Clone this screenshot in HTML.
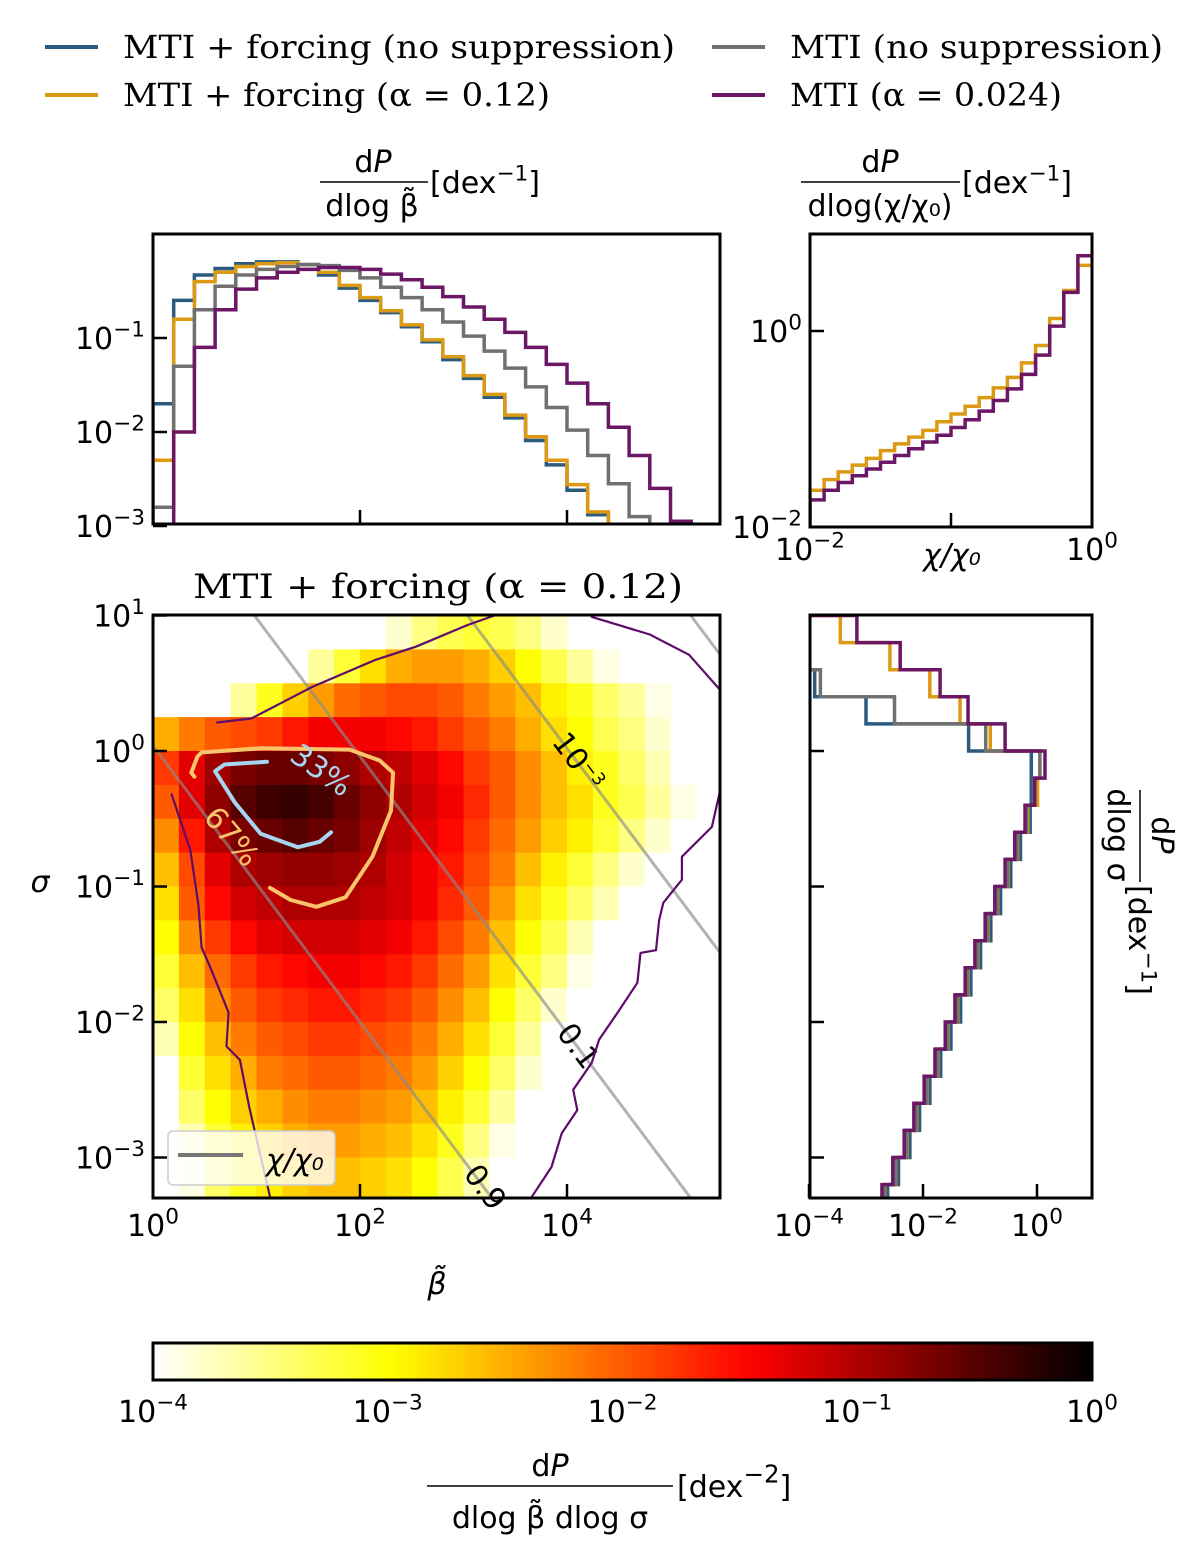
<!DOCTYPE html>
<html><head><meta charset="utf-8"><style>
html,body{margin:0;padding:0;background:#fff;overflow:hidden;width:1200px;height:1554px;}
svg{display:block;}
.tk{font-family:"DejaVu Sans","Liberation Sans",sans-serif;font-size:30px;fill:#000;}
.sf{font-family:"DejaVu Serif","Liberation Serif",serif;fill:#000;}
</style></head><body>
<svg id="fig" xmlns="http://www.w3.org/2000/svg" width="1200" height="1554" viewBox="0 0 1200 1554" style="background:#fff">
<defs>
<clipPath id="cMain"><rect x="153" y="615" width="567" height="583"/></clipPath>
<clipPath id="cTL"><rect x="153" y="234" width="567" height="290"/></clipPath>
<clipPath id="cTR"><rect x="810" y="234" width="282" height="293"/></clipPath>
<clipPath id="cBR"><rect x="810" y="615" width="282" height="583"/></clipPath>
<linearGradient id="cbGrad" x1="0" x2="1" y1="0" y2="0"></linearGradient>
</defs>
<g id="legend"></g>
<g id="tl"></g>
<g id="tr"></g>
<g id="main"></g>
<g id="br"></g>
<g id="cb"></g>
</svg>
<script>
// ---------- data ----------
const seriesNames = ["MTI + forcing (no suppression)","MTI + forcing (α = 0.12)","MTI (no suppression)","MTI (α = 0.024)"];
const seriesColors = ["#2b5c80","#dc9a14","#707070","#6b1766"];
const betaBinStart = 0, betaBinWidth = 0.2;
const betaBlue   = [-1.7,-0.6,-0.33,-0.26,-0.21,-0.19,-0.19,-0.22,-0.33,-0.47,-0.6,-0.73,-0.88,-1.04,-1.23,-1.43,-1.63,-1.85,-2.09,-2.35,-2.62,-2.88,-3.3,-9,-9,-9,-9,-9];
const betaOrange = [-2.3,-0.8,-0.4,-0.3,-0.24,-0.21,-0.2,-0.22,-0.3,-0.44,-0.57,-0.71,-0.86,-1.02,-1.2,-1.4,-1.6,-1.82,-2.05,-2.3,-2.56,-2.85,-3.2,-9,-9,-9,-9,-9];
const betaGray   = [-2.8,-1.3,-0.7,-0.45,-0.33,-0.27,-0.24,-0.22,-0.23,-0.28,-0.36,-0.46,-0.57,-0.7,-0.83,-0.98,-1.14,-1.32,-1.52,-1.74,-1.98,-2.25,-2.55,-2.9,-3.3,-9,-9,-9];
const betaPurple = [-3.5,-2.0,-1.1,-0.7,-0.48,-0.36,-0.3,-0.27,-0.25,-0.25,-0.27,-0.32,-0.38,-0.46,-0.56,-0.67,-0.8,-0.94,-1.1,-1.28,-1.48,-1.7,-1.95,-2.25,-2.6,-2.95,-3.4,-9];
const chiBinStart = -2, chiBinWidth = 0.1;
const chiOrange = [-1.65,-1.54,-1.46,-1.39,-1.32,-1.24,-1.17,-1.10,-1.03,-0.94,-0.86,-0.78,-0.69,-0.59,-0.48,-0.33,-0.15,0.13,0.42,0.68];
const chiPurple = [-1.75,-1.65,-1.57,-1.5,-1.43,-1.36,-1.29,-1.22,-1.15,-1.08,-1.0,-0.92,-0.83,-0.72,-0.6,-0.45,-0.25,0.05,0.4,0.78];
const sigBinTop = 1, sigBinWidth = 0.2;
const sigBlue   = [-9,-9,-3.9,-3.0,-1.2,-0.1,-0.1,-0.12,-0.29,-0.46,-0.64,-0.81,-0.99,-1.16,-1.34,-1.51,-1.69,-1.88,-2.06,-2.23,-2.43,-2.62];
const sigOrange = [-3.45,-2.58,-1.88,-1.35,-0.82,0.05,0.01,-0.16,-0.34,-0.51,-0.69,-0.86,-1.04,-1.21,-1.39,-1.56,-1.74,-1.93,-2.11,-2.28,-2.48,-2.67];
const sigGray   = [-9,-9,-3.8,-2.5,-0.9,0.05,-0.05,-0.18,-0.35,-0.52,-0.7,-0.87,-1.05,-1.22,-1.4,-1.57,-1.75,-1.94,-2.12,-2.29,-2.49,-2.68];
const sigPurple = [-3.16,-2.4,-1.7,-1.21,-0.56,0.14,-0.04,-0.21,-0.39,-0.56,-0.74,-0.91,-1.09,-1.26,-1.44,-1.61,-1.79,-1.98,-2.16,-2.33,-2.53,-2.72];
const hmSigTop = 1, hmSigStep = 0.25, hmBetaStart = 0, hmBetaStep = 0.25;
const hmLogDensity = [
[-9,-9,-9,-9,-9,-9,-9,-9,-9,-3.8,-3.5,-3.3,-3.2,-3.3,-3.5,-3.8,-9,-9,-9,-9,-9,-9],
[-9,-9,-9,-9,-9,-9,-3.6,-3.2,-2.8,-2.5,-2.4,-2.4,-2.5,-2.7,-3.0,-3.3,-3.6,-3.9,-9,-9,-9,-9],
[-9,-9,-9,-3.6,-3.1,-2.7,-2.4,-2.1,-2.0,-1.9,-1.9,-2.0,-2.2,-2.4,-2.6,-2.9,-3.1,-3.4,-3.6,-3.9,-9,-9],
[-2.5,-2.2,-2.0,-1.9,-1.8,-1.6,-1.4,-1.4,-1.4,-1.5,-1.6,-1.8,-2.0,-2.2,-2.5,-2.8,-3.0,-3.3,-3.5,-3.8,-4.2,-9],
[-1.8,-1.3,-0.9,-0.7,-0.6,-0.6,-0.7,-0.8,-1.0,-1.1,-1.3,-1.5,-1.8,-2.0,-2.3,-2.6,-2.9,-3.1,-3.4,-3.7,-4.0,-9],
[-2.0,-1.3,-0.8,-0.5,-0.35,-0.3,-0.4,-0.6,-0.8,-1.0,-1.2,-1.4,-1.7,-2.0,-2.3,-2.6,-2.8,-3.1,-3.3,-3.6,-3.9,-9],
[-2.3,-1.6,-1.0,-0.7,-0.6,-0.5,-0.6,-0.7,-0.9,-1.1,-1.3,-1.5,-1.8,-2.1,-2.4,-2.7,-2.9,-3.2,-3.5,-3.8,-4.1,-9],
[-2.6,-1.9,-1.3,-1.0,-0.9,-0.85,-0.85,-0.9,-1.0,-1.2,-1.4,-1.6,-1.9,-2.2,-2.6,-2.9,-3.2,-3.5,-3.8,-4.2,-9,-9],
[-2.8,-2.0,-1.5,-1.2,-1.1,-1.0,-1.0,-1.0,-1.1,-1.2,-1.4,-1.7,-2.0,-2.4,-2.8,-3.1,-3.4,-3.7,-4.0,-9,-9,-9],
[-3.0,-2.3,-1.8,-1.5,-1.3,-1.2,-1.2,-1.2,-1.3,-1.4,-1.6,-1.9,-2.2,-2.6,-3.0,-3.3,-3.7,-4.1,-9,-9,-9,-9],
[-3.2,-2.6,-2.1,-1.8,-1.6,-1.5,-1.4,-1.4,-1.5,-1.6,-1.8,-2.1,-2.4,-2.8,-3.2,-3.5,-3.9,-9,-9,-9,-9,-9],
[-3.4,-2.8,-2.3,-2.0,-1.8,-1.7,-1.6,-1.6,-1.7,-1.8,-2.0,-2.3,-2.6,-3.0,-3.4,-3.8,-4.2,-9,-9,-9,-9,-9],
[-3.7,-3.0,-2.6,-2.2,-2.0,-1.9,-1.8,-1.8,-1.9,-2.0,-2.2,-2.5,-2.8,-3.2,-3.6,-4.0,-9,-9,-9,-9,-9,-9],
[-4.1,-3.2,-2.8,-2.5,-2.2,-2.1,-2.0,-2.0,-2.1,-2.2,-2.4,-2.7,-3.0,-3.4,-3.8,-9,-9,-9,-9,-9,-9,-9],
[-4.4,-3.4,-3.0,-2.7,-2.5,-2.3,-2.2,-2.2,-2.3,-2.4,-2.6,-2.9,-3.2,-3.6,-4.0,-9,-9,-9,-9,-9,-9,-9],
[-9,-3.7,-3.2,-2.9,-2.7,-2.5,-2.4,-2.4,-2.5,-2.6,-2.8,-3.1,-3.5,-3.9,-9,-9,-9,-9,-9,-9,-9,-9],
[-9,-3.9,-3.4,-3.1,-2.9,-2.7,-2.6,-2.6,-2.7,-2.8,-3.0,-3.3,-3.7,-4.1,-9,-9,-9,-9,-9,-9,-9,-9]
];
const chiLineLabels = ["0.9","0.1","10^-3",""];
const chiLineIntercepts = [0.04, 2.0, 4.1, 6.3];
const chiLineSlope = -1.02;
const chiLabelBeta = [3.2, 4.1, 4.1, 0];
const contour33 = [[1.10,-0.08],[0.69,-0.10],[0.60,-0.15],[0.79,-0.38],[1.04,-0.61],[1.40,-0.71],[1.61,-0.67],[1.72,-0.60]];
const contour67 = [[0.40,-0.19],[0.37,-0.16],[0.43,-0.04],[0.47,-0.01],[1.04,0.02],[1.90,0.01],[2.19,-0.07],[2.32,-0.16],[2.30,-0.44],[2.12,-0.78],[1.86,-1.08],[1.58,-1.15],[1.33,-1.10],[1.13,-1.01]];
const purpleLeft = [[0.18,-0.32],[0.36,-0.73],[0.44,-1.14],[0.47,-1.45],[0.55,-1.59],[0.73,-1.93],[0.71,-2.18],[0.84,-2.28],[0.93,-2.63],[1.13,-3.29]];
const purpleTop = [[0.62,0.21],[0.95,0.24],[1.53,0.47],[2.14,0.67],[2.54,0.77],[3.04,0.93],[3.30,1.0]];
const purpleRight = [[4.24,0.99],[4.80,0.86],[5.18,0.71],[5.48,0.45]];
const purpleRight2 = [[5.53,-0.12],[5.40,-0.56],[5.11,-0.78],[5.11,-0.95],[4.93,-1.12],[4.89,-1.25],[4.86,-1.47],[4.71,-1.49],[4.68,-1.71],[4.49,-1.93],[4.31,-2.13],[4.24,-2.30],[4.06,-2.50],[4.10,-2.65],[3.95,-2.82],[3.85,-3.07],[3.66,-3.29]];
const colorbarTicks = [-4,-3,-2,-1,0];

// ---------- axes ----------
const NS="http://www.w3.org/2000/svg";
const bx = b => 153 + b*103.5;
const sy = s => 751 - s*135.5;
const tly = L => 338 - (L+1)*94;
const trx = c => 810 + (c+2)*141;
const tryy = L => 331 - L*96.5;
const brx = L => 809 + (L+4)*57;
const cbx = L => 153 + (L+4)*234.75;

function el(tag, attrs, parent, name, inter){
  const e=document.createElementNS(NS,tag);
  for(const k in attrs) e.setAttribute(k, attrs[k]);
  
  
  parent.appendChild(e); return e;
}
function hot(L){
  let t=(L+4)/4; t=Math.max(0,Math.min(1,t)); const x=1-t;
  const r=Math.min(1,x/0.365079), g=Math.max(0,Math.min(1,(x-0.365079)/0.380953)), b=Math.max(0,Math.min(1,(x-0.746032)/0.253968));
  return `rgb(${Math.round(r*255)},${Math.round(g*255)},${Math.round(b*255)})`;
}
function ts(t,s,attrs){const a=document.createElementNS(NS,'tspan'); for(const k in (attrs||{})) a.setAttribute(k,attrs[k]); a.textContent=s; t.appendChild(a); return a;}
function pow(parent, x, y, base, exp, anchor, size, name, suffix){
  size=size||30;
  const t=el('text',{x:x,y:y,'text-anchor':anchor,class:'tk','font-size':size},parent,name,false);
  ts(t,base);
  ts(t,exp.replace('-','−'),{dy:-size*0.42,'font-size':size*0.72});
  if(suffix) ts(t,suffix,{dy:size*0.42});
  return t;
}
function txt(parent,x,y,s,cls,attrs,name){
  const t=el('text',Object.assign({x:x,y:y,class:cls},attrs||{}),parent,name,false); t.textContent=s; return t;
}
function dP(parent,x,y,size,name){
  const t=el('text',{x:x,y:y,class:'tk','text-anchor':'middle','font-size':size},parent,name,false);
  ts(t,'d'); ts(t,'P',{'font-style':'italic'}); return t;
}
function polyline(parent, pts, fx, fy, stroke, w, name, clip){
  const d=pts.map((p,i)=>(i?'L':'M')+fx(p[0]).toFixed(1)+','+fy(p[1]).toFixed(1)).join(' ');
  const a={d:d,fill:'none',stroke:stroke,'stroke-width':w,'stroke-linejoin':'round','stroke-linecap':'round'};
  if(clip) a['clip-path']=clip;
  return el('path',a,parent,name,false);
}
function hStep(parent, vals, start, w, fx, fy, color, name, clip){
  let d=''; const yb=fy(-12);
  vals.forEach((v,i)=>{const x0=fx(start+i*w), x1=fx(start+(i+1)*w), y=fy(v);
    d+= (i===0? `M${x0},${yb} L${x0},${y}` : ` L${x0},${y}`) + ` L${x1},${y}`;});
  el('path',{d:d,fill:'none',stroke:color,'stroke-width':3.5,'clip-path':clip},parent,name,false);
}
function frame(parent,x,y,w,h,name){ el('rect',{x:x,y:y,width:w,height:h,fill:'none',stroke:'#000','stroke-width':3},parent,name,false); }
function tick(parent,x1,y1,x2,y2,name){ el('line',{x1:x1,y1:y1,x2:x2,y2:y2,stroke:'#000','stroke-width':2.5},parent,name,false); }

// ---------- legend ----------
const lg=document.getElementById('legend');
const legPos=[[45,47],[45,95],[712,47],[712,95]];
const legLen=[552,427,373,272];
seriesNames.forEach((n,i)=>{
  const [x,y]=legPos[i];
  el('line',{x1:x,y1:y,x2:x+53,y2:y,stroke:seriesColors[i],'stroke-width':4},lg,'legend-swatch-'+i,false);
  txt(lg,x+78,y+11,n,'sf',{'font-size':32,textLength:legLen[i],lengthAdjust:'spacingAndGlyphs'},'legend-label-'+i);
});

// ---------- top-left panel ----------
const tl=document.getElementById('tl');
[betaBlue,betaOrange,betaGray,betaPurple].forEach((arr,i)=>hStep(tl,arr,betaBinStart,betaBinWidth,bx,tly,seriesColors[i],'beta-hist-'+i,'url(#cTL)'));
frame(tl,153,234,567,290,'beta-hist-frame');
[-1,-2,-3].forEach(L=>{tick(tl,153,tly(L),167,tly(L),'beta-hist-ytick'); pow(tl,145,tly(L)+11,'10',String(L),'end',30,'beta-hist-ytick-label');});
[2,4].forEach(b=>tick(tl,bx(b),524,bx(b),510,'beta-hist-xtick'));
dP(tl,373,172,30,'beta-hist-ylabel-num');
el('line',{x1:320,y1:182,x2:428,y2:182,stroke:'#000','stroke-width':1.5},tl,'beta-hist-ylabel-bar',false);
txt(tl,372,216,'dlog β̃','tk',{'text-anchor':'middle','font-size':30},'beta-hist-ylabel-den');
pow(tl,430,193,'[dex','-1','start',30,'beta-hist-ylabel-unit',']');

// ---------- top-right panel ----------
const tr=document.getElementById('tr');
hStep(tr,chiOrange,chiBinStart,chiBinWidth,trx,tryy,seriesColors[1],'chi-hist-orange','url(#cTR)');
hStep(tr,chiPurple,chiBinStart,chiBinWidth,trx,tryy,seriesColors[3],'chi-hist-purple','url(#cTR)');
frame(tr,810,234,282,293,'chi-hist-frame');
tick(tr,810,331,824,331,'chi-hist-ytick');
tick(tr,951,527,951,513,'chi-hist-xtick');
pow(tr,802,342,'10','0','end',30,'chi-hist-ytick-label');
pow(tr,802,538,'10','-2','end',30,'chi-hist-ytick-label');
pow(tr,810,560,'10','-2','middle',30,'chi-hist-xtick-label');
pow(tr,1092,560,'10','0','middle',30,'chi-hist-xtick-label');
txt(tr,952,565,'χ/χ₀','tk',{'text-anchor':'middle','font-size':34,'font-style':'italic'},'chi-hist-xlabel');
dP(tr,880,172,30,'chi-hist-ylabel-num');
el('line',{x1:801,y1:182,x2:960,y2:182,stroke:'#000','stroke-width':1.5},tr,'chi-hist-ylabel-bar',false);
txt(tr,880,216,'dlog(χ/χ₀)','tk',{'text-anchor':'middle','font-size':30},'chi-hist-ylabel-den');
pow(tr,962,193,'[dex','-1','start',30,'chi-hist-ylabel-unit',']');

// ---------- main heatmap ----------
const mn=document.getElementById('main');
txt(mn,193,598,'MTI + forcing (α = 0.12)','sf',{'font-size':34,textLength:490,lengthAdjust:'spacingAndGlyphs'},'heatmap-title');
const cells=el('g',{'clip-path':'url(#cMain)'},mn,'heatmap-cells',false);
hmLogDensity.forEach((row,r)=>row.forEach((v,c)=>{
  if(v<-8) return;
  const x0=bx(hmBetaStart+c*hmBetaStep), x1=bx(hmBetaStart+(c+1)*hmBetaStep);
  const y0=sy(hmSigTop-r*hmSigStep), y1=sy(hmSigTop-(r+1)*hmSigStep-(r===hmLogDensity.length-1?0.1:0));
  const e=document.createElementNS(NS,'rect');
  e.setAttribute('x',x0.toFixed(1)); e.setAttribute('y',y0.toFixed(1));
  e.setAttribute('width',(x1-x0+0.6).toFixed(1)); e.setAttribute('height',(y1-y0+0.6).toFixed(1));
  e.setAttribute('fill',hot(v));
  
  
  cells.appendChild(e);
}));
const lines=el('g',{'clip-path':'url(#cMain)'},mn,'chi-isolines',false);
chiLineIntercepts.forEach((c,i)=>{
  const b0=-1, b1=7;
  el('line',{x1:bx(b0),y1:sy(c+chiLineSlope*b0),x2:bx(b1),y2:sy(c+chiLineSlope*b1),stroke:'#8a8a8a','stroke-opacity':0.65,'stroke-width':3},lines,'chi-isoline-'+i,false);
});
chiLineLabels.forEach((lab,i)=>{
  if(!lab) return;
  const b=chiLabelBeta[i], s=chiLineIntercepts[i]+chiLineSlope*b;
  const g=el('g',{transform:`translate(${bx(b).toFixed(1)},${sy(s).toFixed(1)}) rotate(53)`},mn,'chi-isoline-label-'+i,false);
  if(lab.indexOf('^')>=0){ const p=lab.split('^'); pow(g,0,9,p[0],p[1],'middle',24,'chi-isoline-label-text'); }
  else txt(g,0,9,lab,'tk',{'text-anchor':'middle','font-size':24},'chi-isoline-label-text');
});
[purpleLeft,purpleTop,purpleRight,purpleRight2].forEach((p,i)=>polyline(mn,p,bx,sy,'#5e0c6a',2.2,'mti-contour-'+i,'url(#cMain)'));
polyline(mn,contour67,bx,sy,'#f9c46a',4,'contour-67-percent','url(#cMain)');
polyline(mn,contour33,bx,sy,'#a6d6ef',4,'contour-33-percent','url(#cMain)');
(function(){
  let g=el('g',{transform:'translate(320,772) rotate(35)'},mn,'contour-33-label',false);
  txt(g,0,8,'33%','tk',{'text-anchor':'middle','font-size':24,style:'fill:#a6d6ef'},'contour-33-label-text');
  g=el('g',{transform:'translate(230,838) rotate(50)'},mn,'contour-67-label',false);
  txt(g,0,8,'67%','tk',{'text-anchor':'middle','font-size':24,style:'fill:#f9c46a'},'contour-67-label-text');
})();
el('rect',{x:168,y:1131,width:167,height:54,rx:5,fill:'#fff','fill-opacity':0.78,stroke:'#ccc','stroke-width':1.5},mn,'chi-legend-box',false);
el('line',{x1:178,y1:1155,x2:243,y2:1155,stroke:'#777','stroke-width':4},mn,'chi-legend-swatch',false);
txt(mn,266,1170,'χ/χ₀','tk',{'font-size':32,'font-style':'italic'},'chi-legend-label');
frame(mn,153,615,567,583,'heatmap-frame');
[1,0,-1,-2,-3].forEach(s=>{tick(mn,153,sy(s),167,sy(s),'heatmap-ytick'); pow(mn,145,sy(s)+11,'10',String(s),'end',30,'heatmap-ytick-label');});
[0,2,4].forEach(b=>{tick(mn,bx(b),1198,bx(b),1184,'heatmap-xtick'); pow(mn,bx(b),1236,'10',String(b),'middle',30,'heatmap-xtick-label');});
txt(mn,40,892,'σ','tk',{'text-anchor':'middle','font-size':36,'font-style':'italic'},'heatmap-ylabel');
txt(mn,437,1294,'β̃','tk',{'text-anchor':'middle','font-size':36,'font-style':'italic'},'heatmap-xlabel');

// ---------- bottom-right panel ----------
const br=document.getElementById('br');
function vStep(parent, vals, color, name){
  let d=''; const xl=brx(-12);
  vals.forEach((v,i)=>{const y0=sy(sigBinTop-i*sigBinWidth), y1=sy(sigBinTop-(i+1)*sigBinWidth), x=brx(v);
    d+=(i===0?`M${xl},${y0} L${x},${y0}`:` L${x},${y0}`)+` L${x},${y1}`;});
  el('path',{d:d,fill:'none',stroke:color,'stroke-width':3.5,'clip-path':'url(#cBR)'},parent,name,false);
}
[sigBlue,sigOrange,sigGray,sigPurple].forEach((a,i)=>vStep(br,a,seriesColors[i],'sigma-hist-'+i));
frame(br,810,615,282,583,'sigma-hist-frame');
[0,-1,-2,-3].forEach(s=>tick(br,810,sy(s),824,sy(s),'sigma-hist-ytick'));
[-4,-2,0].forEach(L=>{tick(br,brx(L),1198,brx(L),1184,'sigma-hist-xtick'); pow(br,brx(L),1236,'10',String(L),'middle',30,'sigma-hist-xtick-label');});
(function(){
  const g=el('g',{transform:'translate(1140,790) rotate(90)'},br,'sigma-hist-ylabel',false);
  dP(g,45,-12,30,'sigma-hist-ylabel-num');
  el('line',{x1:0,y1:0,x2:92,y2:0,stroke:'#000','stroke-width':1.5},g,'sigma-hist-ylabel-bar',false);
  txt(g,45,32,'dlog σ','tk',{'text-anchor':'middle','font-size':30},'sigma-hist-ylabel-den');
  pow(g,95,11,'[dex','-1','start',30,'sigma-hist-ylabel-unit',']');
})();

// ---------- colorbar ----------
const cb=document.getElementById('cb');
const grad=document.getElementById('cbGrad');
for(let k=0;k<=40;k++){const s=document.createElementNS(NS,'stop'); s.setAttribute('offset',(k/40)); s.setAttribute('stop-color',hot(-4+4*k/40)); grad.appendChild(s);}
el('rect',{x:153,y:1343,width:939,height:37,fill:'url(#cbGrad)',stroke:'#000','stroke-width':3},cb,'colorbar-gradient',false);
colorbarTicks.forEach(L=>pow(cb,cbx(L),1422,'10',String(L),'middle',30,'colorbar-tick-label'));
dP(cb,550,1476,34,'colorbar-label-num');
el('line',{x1:427,y1:1486,x2:673,y2:1486,stroke:'#000','stroke-width':1.5},cb,'colorbar-label-bar',false);
txt(cb,550,1528,'dlog β̃ dlog σ','tk',{'text-anchor':'middle','font-size':34},'colorbar-label-den');
pow(cb,677,1497,'[dex','-2','start',34,'colorbar-label-unit',']');
</script>
</body></html>
